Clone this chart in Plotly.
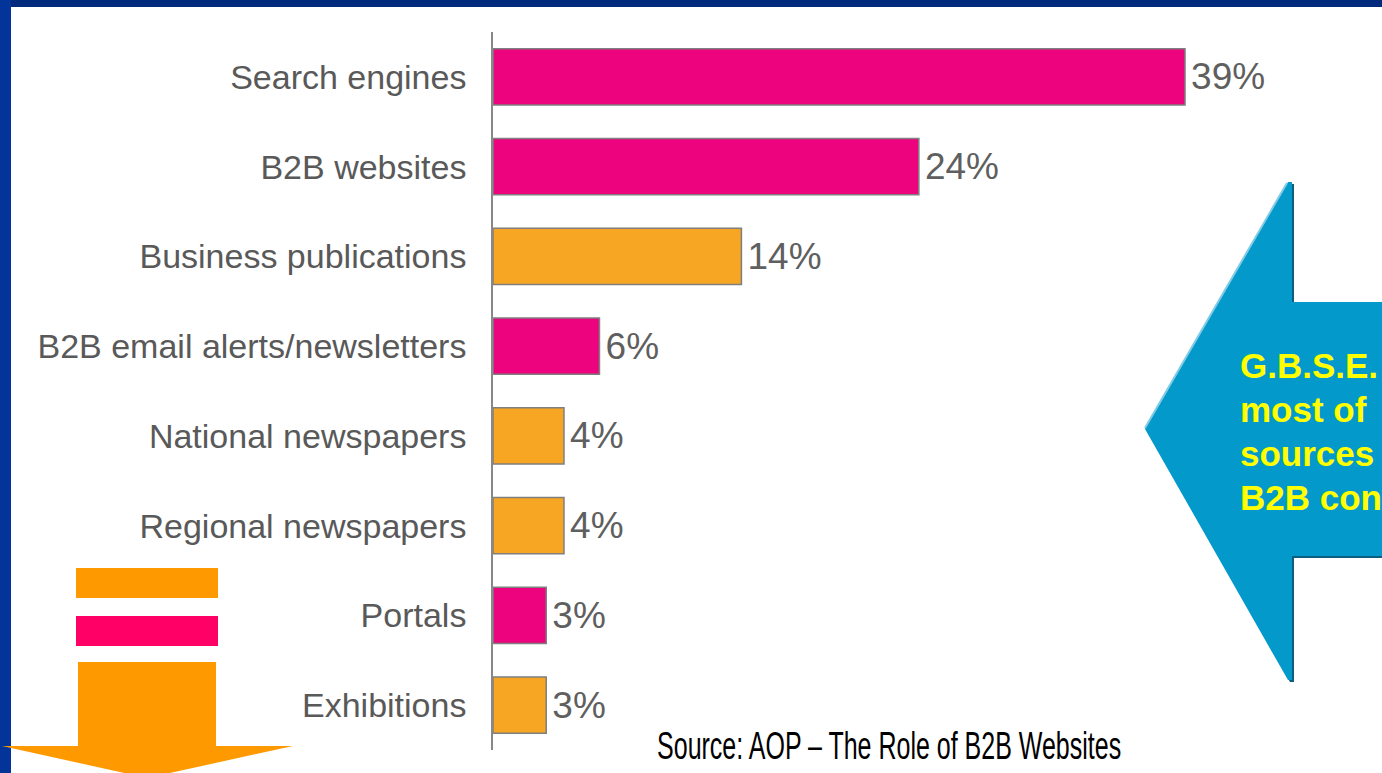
import plotly.graph_objects as go

# Share of B2B decision makers naming each source
categories = [
    "Search engines",
    "B2B websites",
    "Business publications",
    "B2B email alerts/newsletters",
    "National newspapers",
    "Regional newspapers",
    "Portals",
    "Exhibitions",
]
shares = [39, 24, 14, 6, 4, 4, 3, 3]
# online sources in pink, offline sources in orange
channel = ["online", "online", "offline", "online", "offline", "offline", "online", "offline"]

PINK = "#EE037F"
ORANGE = "#F6A622"
palette = {"online": PINK, "offline": ORANGE}

W, H = 1382, 773
L, R, T, B = 493, 2, 32, 23
PW, PH = W - L - R, H - T - B


def xp(px):
    """page pixel -> paper x"""
    return (px - L) / PW


def yp(py):
    """page pixel -> paper y"""
    return (H - B - py) / PH


fig = go.Figure(
    go.Bar(
        x=shares,
        y=categories,
        orientation="h",
        marker=dict(color=[palette[c] for c in channel],
                    line=dict(color="#7F7F7F", width=1.5)),
        text=[f"\u200a{v}%" for v in shares],
        textposition="outside",
        textfont=dict(family="Liberation Sans, Arial, sans-serif", size=37, color="#5F5F5F"),
        constraintext="none",
        cliponaxis=False,
        hoverinfo="skip",
    )
)

shapes = []
# slide frame
shapes.append(dict(type="rect", xref="paper", yref="paper", x0=xp(0), x1=xp(W), y0=yp(0), y1=yp(7),
                   fillcolor="#012A7C", line=dict(width=0), layer="above"))
shapes.append(dict(type="rect", xref="paper", yref="paper", x0=xp(0), x1=xp(11), y0=yp(0), y1=yp(H),
                   fillcolor="#033499", line=dict(width=0), layer="above"))


def poly(points):
    d = "M " + " L ".join(f"{xp(x):.5f},{yp(y):.5f}" for x, y in points) + " Z"
    return d


# left-pointing callout arrow (shadow, body, highlight)
arrow = [(1145, 429), (1288, 182), (1292, 182), (1292, 302), (1400, 302),
         (1400, 556), (1292, 556), (1292, 680), (1288, 680)]
shadow = [(x + 2, y + 2) for x, y in arrow]
shapes.append(dict(type="path", xref="paper", yref="paper", path=poly(shadow),
                   fillcolor="#0B5E80", line=dict(width=0)))
shapes.append(dict(type="path", xref="paper", yref="paper", path=poly(arrow),
                   fillcolor="#0399CB", line=dict(width=0)))
shapes.append(dict(type="line", xref="paper", yref="paper", x0=xp(1145), y0=yp(428),
                   x1=xp(1287), y1=yp(183), line=dict(color="#7FCBE6", width=2)))

# stacked stripes and down arrow, bottom left
shapes.append(dict(type="rect", xref="paper", yref="paper", x0=xp(76), x1=xp(218), y0=yp(598), y1=yp(568),
                   fillcolor="#FF9900", line=dict(width=0)))
shapes.append(dict(type="rect", xref="paper", yref="paper", x0=xp(76), x1=xp(218), y0=yp(646), y1=yp(616),
                   fillcolor="#FF0066", line=dict(width=0)))
down = [(78, 662), (216, 662), (216, 746), (293, 746), (147, 778), (2, 746), (78, 746)]
shapes.append(dict(type="path", xref="paper", yref="paper", path=poly(down),
                   fillcolor="#FF9900", line=dict(width=0)))

annotations = []
callout_lines = ["G.B.S.E. are the", "most of", "sources for", "B2B content"]
baselines = [377, 421, 465, 509]
for line, base in zip(callout_lines, baselines):
    annotations.append(dict(
        xref="paper", yref="paper", x=xp(1238), y=yp(base - 12),
        xanchor="left", yanchor="middle", showarrow=False, text=line,
        font=dict(family="Liberation Sans, Arial, sans-serif", size=35, color="#FFFF00", weight="bold"),
    ))

annotations.append(dict(
    xref="paper", yref="paper", x=xp(655), y=yp(746), xanchor="left", yanchor="middle",
    showarrow=False, text="Source: AOP – The Role of B2B Websites",
    font=dict(family="Liberation Sans, Arial, sans-serif", size=38, color="#000000"),
))

fig.update_layout(
    width=W,
    height=H,
    margin=dict(l=L, r=R, t=T, b=B, pad=0),
    paper_bgcolor="white",
    plot_bgcolor="white",
    bargap=0.376,
    showlegend=False,
    shapes=shapes,
    annotations=annotations,
    xaxis=dict(range=[0, PW / 17.744], visible=False, fixedrange=True),
    yaxis=dict(
        categoryorder="array",
        categoryarray=categories,
        autorange="reversed",
        showline=True,
        linecolor="#888888",
        linewidth=1.5,
        showgrid=False,
        zeroline=False,
        ticks="",
        ticklabelstandoff=18,
        tickfont=dict(family="Liberation Sans, Arial, sans-serif", size=34, color="#595959"),
        fixedrange=True,
    ),
)

# the source line is set in a condensed face: squeeze it horizontally about its left edge
condense = """
document.querySelectorAll('text.annotation-text').forEach(function (t) {
  if (t.textContent.indexOf('Source:') === 0) {
    var bb = t.getBBox();
    var x0 = bb.x;
    var prev = t.getAttribute('transform') || '';
    t.setAttribute('transform', prev + ' translate(' + x0 + ',0) scale(0.658,1) translate(' + (-x0) + ',0)');
  }
});
"""

fig.write_html("out.html", config={"displayModeBar": False}, post_script=condense)
